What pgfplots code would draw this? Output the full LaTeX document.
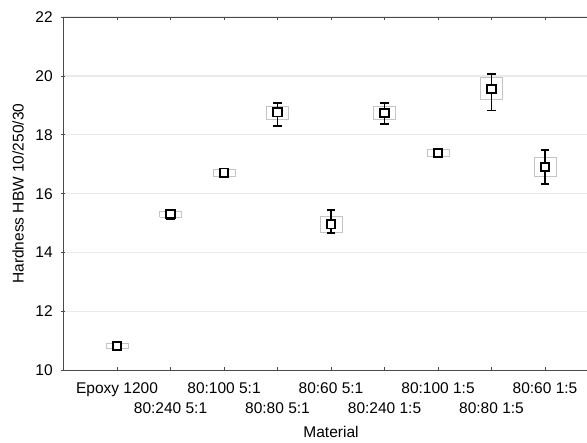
\documentclass[border=0pt]{standalone}
\usepackage{fontspec}
\setmainfont{Liberation Sans}
\usepackage{pgfplots}
\pgfplotsset{compat=1.18}
\definecolor{axgray}{HTML}{4A4A4A}
\definecolor{boxgray}{HTML}{C4C4C4}
\definecolor{gridgray}{HTML}{EBEBEB}

% grey boxes (mean +- SE), one closed outline per material, nan between them
\pgfplotstableread{
x      y
-0.205 10.75
0.205  10.75
0.205  10.91
-0.205 10.91
-0.205 10.75
nan    nan
0.795  15.21
1.205  15.21
1.205  15.41
0.795  15.41
0.795  15.21
nan    nan
1.795  16.59
2.205  16.59
2.205  16.83
1.795  16.83
1.795  16.59
nan    nan
2.795  18.51
3.205  18.51
3.205  18.96
2.795  18.96
2.795  18.51
nan    nan
3.795  14.68
4.205  14.68
4.205  15.24
3.795  15.24
3.795  14.68
nan    nan
4.795  18.52
5.205  18.52
5.205  18.95
4.795  18.95
4.795  18.52
nan    nan
5.795  17.27
6.205  17.27
6.205  17.49
5.795  17.49
5.795  17.27
nan    nan
6.795  19.19
7.205  19.19
7.205  19.94
6.795  19.94
6.795  19.19
nan    nan
7.795  16.59
8.205  16.59
8.205  17.25
7.795  17.25
7.795  16.59
}\boxes

\begin{document}
\begin{tikzpicture}
\begin{axis}[
  at={(0,0)}, anchor=south west,
  scale only axis, width=524bp, height=353.5bp,
  xmin=-1.01, xmax=8.785, ymin=10, ymax=22,
  axis x line=box, axis y line=left,
  axis line style={-, draw=axgray, line width=0.9pt},
  every tick/.style={axgray, line width=0.8pt},
  major tick length=3.5bp,
  xtick={0,2,4,6,8}, ytick={10,12,...,22},
  xticklabels={Epoxy 1200, 80:100 5:1, 80:60 5:1, 80:100 1:5, 80:60 1:5},
  extra x ticks={1,3,5,7},
  extra x tick labels={80:240 5:1, 80:80 5:1, 80:240 1:5, 80:80 1:5},
  extra x tick style={xticklabel style={yshift=-20bp}},
  xticklabel style={font=\fontsize{15.5bp}{18bp}\selectfont, yshift=-9bp},
  yticklabel style={font=\fontsize{15.5bp}{18bp}\selectfont, xshift=-5bp},
  /pgf/number format/assume math mode=true,
  ymajorgrids, grid style={gridgray, line width=1.2pt},
  xlabel={Material}, ylabel={Hardness HBW 10/250/30},
  label style={font=\fontsize{15.5bp}{18bp}\selectfont},
  xlabel style={at={(axis cs:4,10)}, anchor=center, yshift=-61bp},
  ylabel style={at={(axis description cs:-0.0859,0.5)}, anchor=center},
  unbounded coords=jump,
  clip=false,
]
\addplot[boxgray, line width=0.8pt, mark=none] table[x=x, y=y] {\boxes};

% whiskers
\addplot[only marks, mark=none,
  error bars/.cd, y dir=both, y explicit,
  error bar style={draw=black, line width=1.7pt},
  error mark options={draw=black, line width=1.7pt, mark size=4.2bp, rotate=90}]
  coordinates {
  (0,10.83) += (0,0.13) -= (0,0.13)
  (1,15.31) += (0,0.16) -= (0,0.16)
  (2,16.71) += (0,0.15) -= (0,0.15)
  (3,18.76) += (0,0.31) -= (0,0.45)
  (4,14.96) += (0,0.48) -= (0,0.30)
  (5,18.74) += (0,0.33) -= (0,0.38)
  (6,17.38) += (0,0.15) -= (0,0.15)
  (7,19.56) += (0,0.50) -= (0,0.73)
  (8,16.91) += (0,0.57) -= (0,0.57)
  };

% means
\addplot[only marks, mark=square*, mark size=4.2bp,
  mark options={fill=white, draw=black, line width=1.7pt}]
  coordinates {
  (0,10.83) (1,15.31) (2,16.71) (3,18.76) (4,14.96)
  (5,18.74) (6,17.38) (7,19.56) (8,16.91)
  };
\end{axis}
\pgfresetboundingbox
\useasboundingbox (-63bp,-72.5bp) rectangle (524bp,370.5bp);
\end{tikzpicture}
\end{document}
